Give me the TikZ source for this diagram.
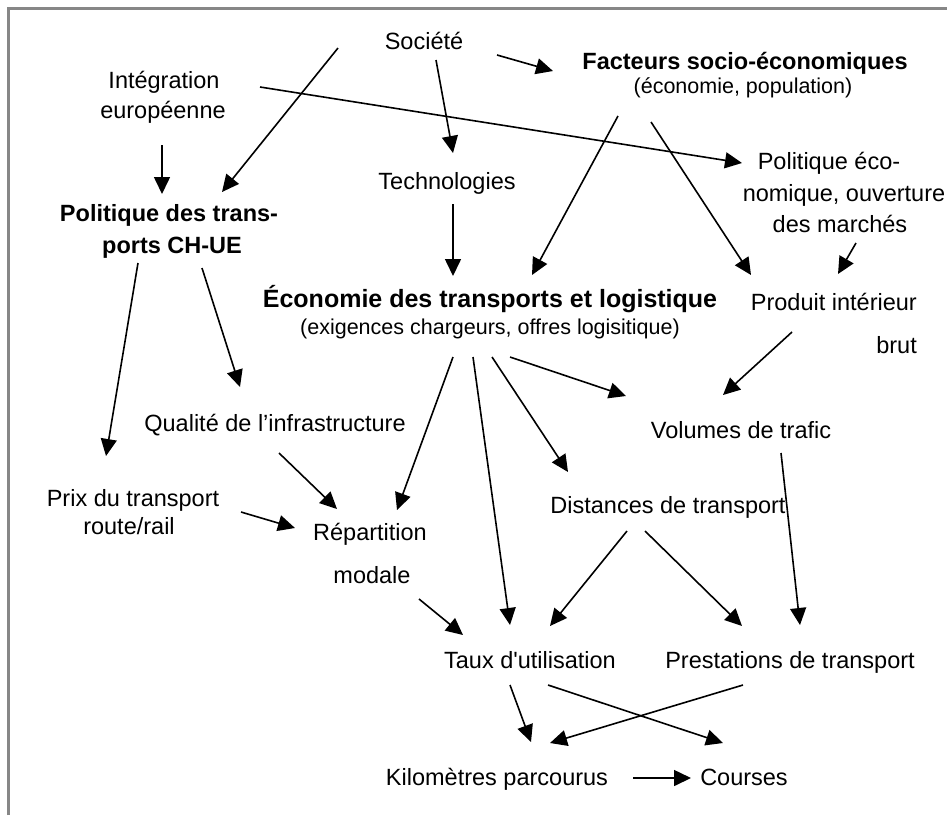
\documentclass[tikz,border=0pt]{standalone}
\usepackage{fontspec}
\newfontfamily\lsans{Liberation Sans}
\usetikzlibrary{arrows.meta}
\tikzset{
  txt/.style={font=\lsans\fontsize{23.5}{28}\selectfont, inner sep=0pt, anchor=base},
  btxt/.style={font=\lsans\bfseries\fontsize{23.5}{28}\selectfont, inner sep=0pt, anchor=base},
  stxt/.style={font=\lsans\fontsize{21.5}{26}\selectfont, inner sep=0pt, anchor=base},
  arr/.style={line width=1.6pt, -{Triangle[length=17pt,width=16pt]}},
  frame/.style={line width=2.5pt, draw={rgb,255:red,135;green,135;blue,135}}
}
\begin{document}
\begin{tikzpicture}[x=1pt,y=-1pt]
\useasboundingbox (0,0) rectangle (947,815);
\draw[frame] (8.5,815) -- (8.5,8.5) -- (947,8.5);

% texts
\node[txt] (soc) at (424,49) {Société};
\node[txt] (int1) at (164,88) {Intégration};
\node[txt] (int2) at (163,118) {européenne};
\node[btxt] (fac1) at (745,69) {Facteurs socio-économiques};
\node[stxt] (fac2) at (743,93) {(économie, population)};
\node[txt] (tech) at (447,189) {Technologies};
\node[txt] (pe1) at (829,169) {Politique éco-};
\node[txt] (pe2) at (844,201) {nomique, ouverture};
\node[txt] (pe3) at (840,232) {des marchés};
\node[btxt] (pt1) at (169,221) {Politique des trans-};
\node[btxt] (pt2) at (172,253) {ports CH-UE};
\node[btxt, font=\lsans\bfseries\fontsize{25}{30}\selectfont] (eco1) at (490,307) {Économie des transports et logistique};
\node[stxt] (eco2) at (490,334) {(exigences chargeurs, offres logisitique)};
\node[txt, anchor=base east] (pib1) at (917,310) {Produit intérieur};
\node[txt, anchor=base east] (pib2) at (917,353) {brut};
\node[txt] (qual) at (275,431) {Qualité de l’infrastructure};
\node[txt] (vol) at (741,438) {Volumes de trafic};
\node[txt] (prix1) at (133,506) {Prix du transport};
\node[txt] (prix2) at (129,534) {route/rail};
\node[txt] (rep1) at (370,540) {Répartition};
\node[txt] (rep2) at (372,583) {modale};
\node[txt] (dist) at (668,513) {Distances de transport};
\node[txt] (taux) at (530,668) {Taux d'utilisation};
\node[txt] (prest) at (790,668) {Prestations de transport};
\node[txt] (km) at (497,785) {Kilomètres parcourus};
\node[txt] (cour) at (744,785) {Courses};

% connector end points
\path (338,48) coordinate (a1s) (222,192) coordinate (a1e)
      (162,145) coordinate (a2s) (162,194) coordinate (a2e)
      (260,87) coordinate (a3s) (742,163) coordinate (a3e)
      (436,60) coordinate (a4s) (453,153) coordinate (a4e)
      (497,55) coordinate (a5s) (553,71) coordinate (a5e)
      (453,204) coordinate (a6s) (453,276) coordinate (a6e)
      (618,116) coordinate (a7s) (532,275) coordinate (a7e)
      (651,122) coordinate (a8s) (751,275) coordinate (a8e)
      (856,243) coordinate (a9s) (838,274) coordinate (a9e)
      (138,263) coordinate (a10s) (106,456) coordinate (a10e)
      (202,268) coordinate (a11s) (240,387) coordinate (a11e)
      (279,453) coordinate (a12s) (337,509) coordinate (a12e)
      (241,512) coordinate (a13s) (295,528) coordinate (a13e)
      (453,357) coordinate (a14s) (397,510) coordinate (a14e)
      (473,357) coordinate (a15s) (510,625) coordinate (a15e)
      (492,357) coordinate (a16s) (568,472) coordinate (a16e)
      (510,357) coordinate (a17s) (626,396) coordinate (a17e)
      (792,332) coordinate (a18s) (723,395) coordinate (a18e)
      (781,453) coordinate (a19s) (800,625) coordinate (a19e)
      (627,531) coordinate (a20s) (550,626) coordinate (a20e)
      (645,531) coordinate (a21s) (742,626) coordinate (a21e)
      (419,599) coordinate (a22s) (463,635) coordinate (a22e)
      (510,685) coordinate (a23s) (531,742) coordinate (a23e)
      (548,685) coordinate (a24s) (723,743) coordinate (a24e)
      (743,685) coordinate (a25s) (550,743) coordinate (a25e)
      (633,778) coordinate (a26s) (691,778) coordinate (a26e);

\foreach \i in {1,...,26} {\draw[arr] (a\i s) -- (a\i e);}
\end{tikzpicture}
\end{document}
